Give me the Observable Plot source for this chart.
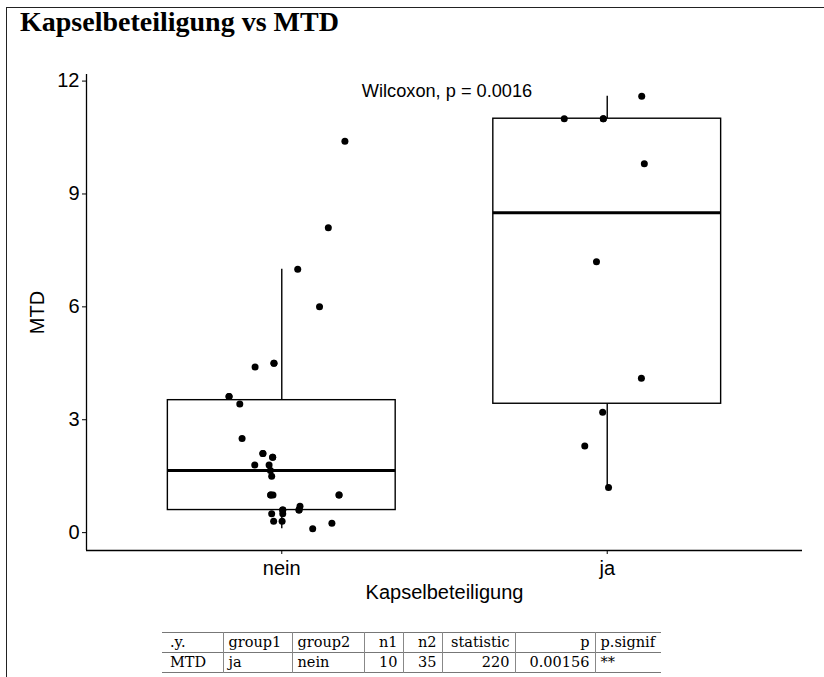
<!DOCTYPE html>
<html>
<head>
<meta charset="utf-8">
<script src="https://cdn.jsdelivr.net/npm/d3@7"></script>
<script src="https://cdn.jsdelivr.net/npm/@observablehq/plot@0.6"></script>
<style>
  html, body { margin: 0; padding: 0; background: #fff; }
  #wrap { position: relative; width: 824px; height: 677px; overflow: hidden; background: #fff; }
  #frameTop { position: absolute; left: 7px; top: 7px; width: 817px; height: 0; border-top: 1.5px solid #222; }
  #frameLeft { position: absolute; left: 6px; top: 7px; width: 0; height: 670px; border-left: 1.5px solid #222; }
  #title { position: absolute; left: 20px; top: 8px; font-family: "Liberation Serif", "Times New Roman", serif; font-weight: bold; font-size: 28px; line-height: 28px; color: #000; white-space: nowrap; }
  #chart { position: absolute; left: 0; top: 0; }
  #tbl { position: absolute; left: 162px; top: 632px; border-collapse: collapse; table-layout: fixed; font-family: "DejaVu Serif", serif; font-size: 14.5px; color: #000; }
  #tbl td { border-left: 1px solid #888; padding: 0 5px; height: 19px; line-height: 19px; white-space: nowrap; overflow: hidden; }
  #tbl td:first-child { border-left: none; padding-left: 8px; }
  #tbl tr { border-top: 1px solid #777; border-bottom: 1px solid #777; }
  #tbl td.r { text-align: right; }
</style>
</head>
<body>
<div id="wrap">
  <div id="frameTop"></div>
  <div id="frameLeft"></div>
  <div id="title"></div>
  <div id="chart"></div>
  <table id="tbl"></table>
</div>
<script>
// ---------- data ----------
const titleText = "Kapselbeteiligung vs MTD";
const categories = ["nein", "ja"];
const xLabel = "Kapselbeteiligung";
const yLabel = "MTD";
const yTicks = [0, 3, 6, 9, 12];

// MTD values, group "nein" (n = 35; some points overlap in the picture)
const neinMTD = [10.4, 8.1, 7.0, 6.0, 4.4, 4.5, 3.62, 3.42, 2.5, 2.1, 2.0, 1.8, 1.8, 1.5,
                 1.0, 1.0, 1.0, 0.6, 0.7, 0.6, 0.5, 0.5, 0.3, 0.3, 0.1, 0.25,
                 3.62, 4.5, 2.0, 2.1, 1.65, 1.0, 1.0, 0.6, 0.6];
// horizontal jitter of each point (in category units)
const neinJitter = [0.194, 0.143, 0.049, 0.116, -0.082, -0.024, -0.162, -0.129, -0.122, -0.058, -0.028, -0.083, -0.039, -0.031,
                    -0.034, -0.027, 0.176, 0.003, 0.056, 0.053, -0.031, 0.003, -0.025, 0.001, 0.095, 0.154,
                    -0.162, -0.024, -0.028, -0.058, -0.035, -0.034, 0.176, 0.003, 0.053];

// MTD values, group "ja" (n = 10)
const jaMTD = [11.6, 11.0, 11.0, 9.8, 7.2, 4.1, 3.2, 2.3, 1.2, 11.0];
const jaJitter = [0.106, -0.132, -0.012, 0.114, -0.033, 0.105, -0.014, -0.069, 0.004, -0.012];

const testLabel = "Wilcoxon, p = 0.0016";
const testLabelX = 1.246;
const testLabelY = 11.72;

const tableHeader = [".y.", "group1", "group2", "n1", "n2", "statistic", "p", "p.signif"];
const tableRow = ["MTD", "ja", "nein", "10", "35", "220", "0.00156", "**"];
const tableRightAligned = [false, false, false, true, true, true, true, false];
const tableColWidths = [61, 69, 72, 39, 39, 73, 80, 66];

// ---------- derived ----------
const groups = [
  {g: 1, values: neinMTD, jitter: neinJitter},
  {g: 2, values: jaMTD, jitter: jaJitter}
];
const points = groups.flatMap(G => G.values.map((v, i) => ({x: G.g + G.jitter[i], y: v})));
const boxHalf = 0.35;
const stats = groups.map(G => {
  const s = G.values.slice().sort(d3.ascending);
  const q1 = d3.quantile(s, 0.25), med = d3.quantile(s, 0.5), q3 = d3.quantile(s, 0.75);
  const iqr = q3 - q1;
  const lo = d3.min(s.filter(v => v >= q1 - 1.5 * iqr));
  const hi = d3.max(s.filter(v => v <= q3 + 1.5 * iqr));
  return {g: G.g, q1, med, q3, lo, hi};
});
const allVals = neinMTD.concat(jaMTD);
const yMin = d3.min(allVals), yMax = d3.max(allVals);
const pad = (yMax - yMin) * 0.05;

// ---------- title ----------
document.getElementById("title").textContent = titleText;

// ---------- plot ----------
const chart = Plot.plot({
  width: 824,
  height: 620,
  marginLeft: 86,
  marginRight: 22,
  marginTop: 74,
  marginBottom: 70,
  style: {fontFamily: "'Liberation Sans', Arial, sans-serif", fontSize: "20px", color: "#000", background: "transparent"},
  x: {domain: [0.4, 2.6]},
  y: {domain: [yMin - pad, yMax + pad]},
  marks: [
    Plot.ruleX(stats, {x: "g", y1: "lo", y2: "q1", stroke: "#000", strokeWidth: 1.4}),
    Plot.ruleX(stats, {x: "g", y1: "q3", y2: "hi", stroke: "#000", strokeWidth: 1.4}),
    Plot.rect(stats, {x1: d => d.g - boxHalf, x2: d => d.g + boxHalf, y1: "q1", y2: "q3", fill: "#fff", stroke: "#000", strokeWidth: 1.4}),
    Plot.ruleY(stats, {y: "med", x1: d => d.g - boxHalf, x2: d => d.g + boxHalf, stroke: "#000", strokeWidth: 3}),
    Plot.dot(points, {x: "x", y: "y", r: 3.5, fill: "#000", stroke: null}),
    Plot.text([testLabel], {x: testLabelX, y: testLabelY, text: d => d, textAnchor: "start", fontSize: 18.2, fill: "#000"}),
    Plot.ruleX([0.4], {stroke: "#000", strokeWidth: 1.3}),
    Plot.ruleY([yMin - pad], {stroke: "#000", strokeWidth: 1.3}),
    Plot.axisY({ticks: yTicks, tickSize: 4, tickPadding: 3, tickFormat: d3.format("d"),
      label: yLabel, labelAnchor: "center", labelArrow: "none", labelOffset: 57}),
    Plot.axisX({ticks: [1, 2], tickSize: 4, tickPadding: 6, tickFormat: d => categories[d - 1],
      label: xLabel, labelAnchor: "center", labelArrow: "none", labelOffset: 48})
  ]
});
document.getElementById("chart").appendChild(chart);

// ---------- table ----------
const tbl = document.getElementById("tbl");
const cg = document.createElement("colgroup");
tableColWidths.forEach(w => { const c = document.createElement("col"); c.style.width = w + "px"; cg.appendChild(c); });
tbl.appendChild(cg);
[tableHeader, tableRow].forEach(row => {
  const tr = document.createElement("tr");
  row.forEach((cell, i) => {
    const td = document.createElement("td");
    td.textContent = cell;
    if (tableRightAligned[i]) td.className = "r";
    tr.appendChild(td);
  });
  tbl.appendChild(tr);
});
</script>
</body>
</html>
